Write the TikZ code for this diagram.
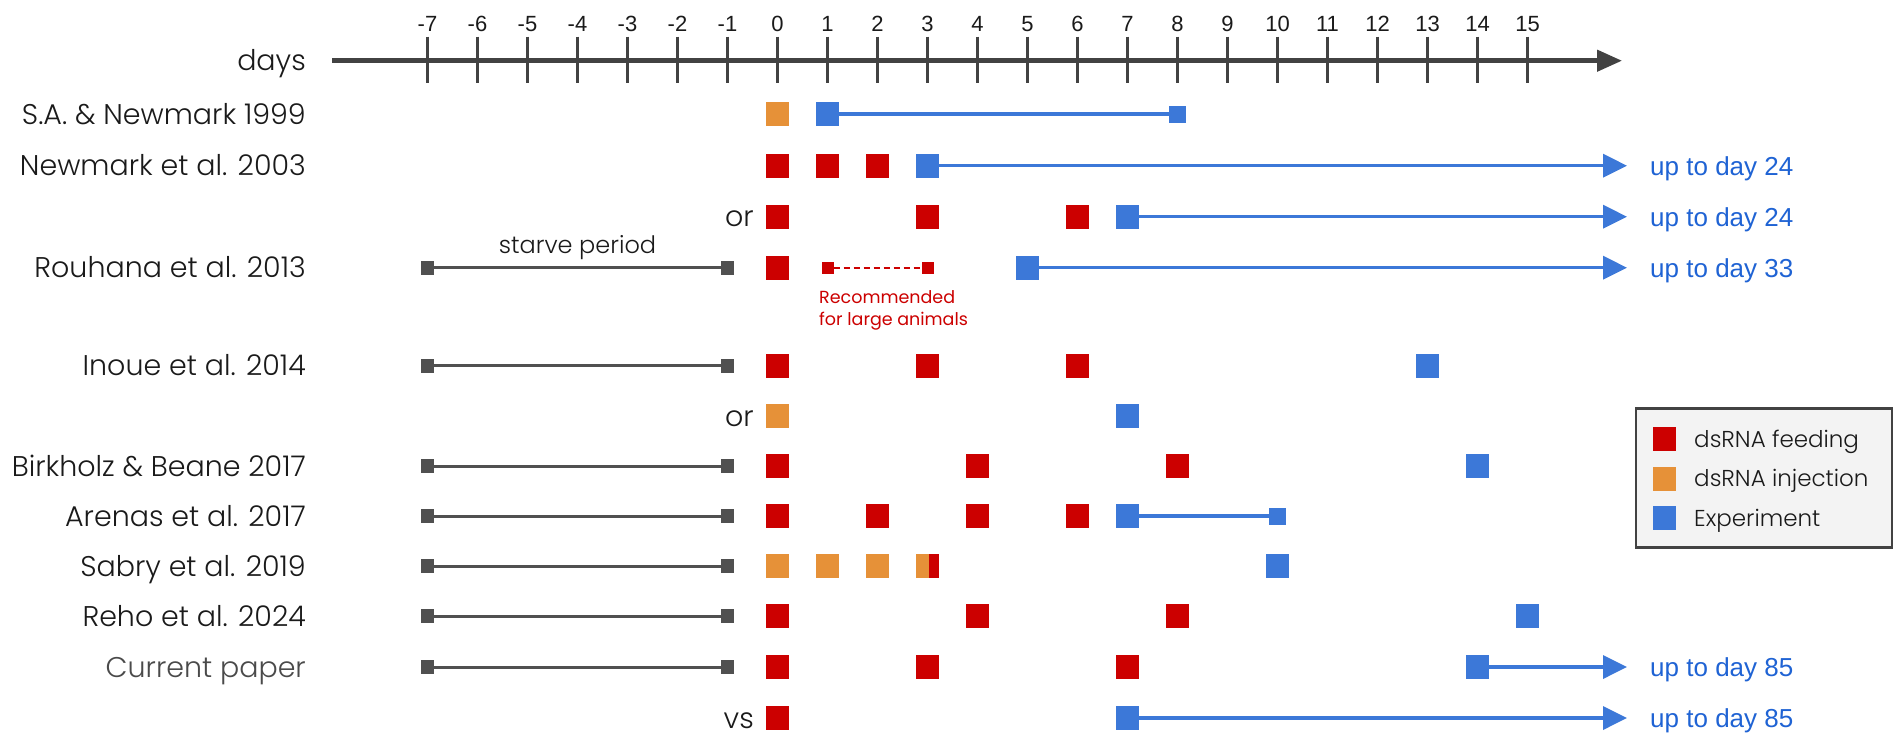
\documentclass[tikz,border=0pt]{standalone}
\usepackage{fontspec}
\setmainfont{Poppins}[UprightFont=* Light]
\newfontfamily\numfamily{Liberation Sans}
\newfontfamily\recfamily{Poppins}
\usetikzlibrary{arrows.meta}
\definecolor{fred}{HTML}{CC0000}
\definecolor{forange}{HTML}{E69138}
\definecolor{fblue}{HTML}{3C78D8}
\definecolor{tblue}{HTML}{1F63D4}
\definecolor{sgray}{HTML}{505050}
\definecolor{axgray}{HTML}{424242}
\definecolor{labelcol}{HTML}{1A1A1A}
\definecolor{curcol}{HTML}{4A4A4A}
\definecolor{legfill}{HTML}{F3F3F3}
\newcommand\lblfont{\fontsize{28.5}{32}\selectfont}
\newcommand\numfont{\numfamily\fontsize{22}{26}\selectfont}
\newcommand\upfont{\numfamily\fontsize{26}{30}\selectfont}
\newcommand\legfont{\fontsize{23}{27}\selectfont}
\newcommand\recfont{\recfamily\fontsize{17.5}{20}\selectfont}
\begin{document}
\begin{tikzpicture}[x=1pt,y=-1pt,
  sq/.style={rectangle, inner sep=0pt, minimum width=23pt, minimum height=24pt},
  feed/.style={sq, fill=fred},
  inj/.style={sq, fill=forange},
  expm/.style={sq, fill=fblue},
  smexp/.style={rectangle, inner sep=0pt, minimum width=17pt, minimum height=17pt, fill=fblue},
  smfeed/.style={rectangle, inner sep=0pt, minimum width=12pt, minimum height=12pt, fill=fred},
  endsq/.style={rectangle, inner sep=0pt, minimum width=13pt, minimum height=14pt, fill=sgray},
  starve/.style={draw=sgray, line width=3pt},
  bline/.style={draw=fblue, line width=3.5pt},
  barrow/.style={bline, -{Triangle[length=24pt,width=23pt]}},
  axisline/.style={draw=axgray, line width=4.5pt, -{Triangle[length=25pt,width=21pt]}},
  tickline/.style={draw=axgray, line width=3pt},
  lbl/.style={anchor=base east, inner sep=0pt, text=labelcol, font=\lblfont},
  upto/.style={anchor=base west, inner sep=0pt, text=tblue, font=\upfont},
  ticklbl/.style={anchor=base, inner sep=0pt, text=labelcol, font=\numfont},
  legtxt/.style={anchor=base west, inner sep=0pt, text=labelcol, font=\legfont},
  rectxt/.style={anchor=base west, inner sep=0pt, text=fred, font=\recfont}
]
\useasboundingbox (0,0) rectangle (1902,740);
\fill[white] (0,0) rectangle (1902,740);

% axis
\node[lbl] (days) at (306,70) {days};
\coordinate (ax0) at (332,60.7);
\coordinate (ax1) at (1622,60.7);
\draw[axisline] (ax0) -- (ax1);
\foreach \d in {-7,...,15}{
  \draw[tickline] ({777.5+50*\d},36.7) -- ({777.5+50*\d},83.3);
  \node[ticklbl] (t\d) at ({777.5+50*\d},31.5) {\d};
}

% row labels
\node[lbl] (l1) at (306,124) {S.A. \& Newmark 1999};
\node[lbl] (l2) at (306,175.7) {Newmark et al. 2003};
\node[lbl] (l3) at (754,226.7) {or};
\node[lbl] (l4) at (306,277.7) {Rouhana et al. 2013};
\node[lbl] (l5) at (306,375.7) {Inoue et al. 2014};
\node[lbl] (l6) at (754,426) {or};
\node[lbl] (l7) at (306,476) {Birkholz \& Beane 2017};
\node[lbl] (l8) at (306,526) {Arenas et al. 2017};
\node[lbl] (l9) at (306,576) {Sabry et al. 2019};
\node[lbl] (l10) at (306,626) {Reho et al. 2024};
\node[lbl, text=curcol] (l11) at (306,677) {Current paper};
\node[lbl] (l12) at (754,728) {vs};

% starve periods
\foreach \y/\n in {267.7/4,365.7/5,466/7,516/8,566/9,616/10,667/11}{
  \node[endsq] (sa\n) at ({777.5-350},\y) {};
  \node[endsq] (sb\n) at ({777.5-50},\y) {};
  \draw[starve] (sa\n) -- (sb\n);
}
\node[font=\fontsize{24}{28}\selectfont, text=labelcol, anchor=base, inner sep=0pt] (starvetxt) at (577.5,253) {starve period};

% S.A. & Newmark 1999
\node[inj] (r1a) at ({777.5},114) {};
\node[expm] (r1e) at ({777.5+50},114) {};
\node[smexp] (r1f) at ({777.5+400},114) {};
\draw[bline] (r1e) -- (r1f);

% Newmark 2003
\node[feed] (r2a) at ({777.5},165.7) {};
\node[feed] (r2b) at ({777.5+50},165.7) {};
\node[feed] (r2c) at ({777.5+100},165.7) {};
\node[expm] (r2e) at ({777.5+150},165.7) {};
\coordinate (r2t) at (1627,165.7);
\draw[barrow] (r2e) -- (r2t);
\node[upto] (u2) at (1650,175) {up to day 24};

% or
\node[feed] (r3a) at ({777.5},216.7) {};
\node[feed] (r3b) at ({777.5+150},216.7) {};
\node[feed] (r3c) at ({777.5+300},216.7) {};
\node[expm] (r3e) at ({777.5+350},216.7) {};
\coordinate (r3t) at (1627,216.7);
\draw[barrow] (r3e) -- (r3t);
\node[upto] (u3) at (1650,226) {up to day 24};

% Rouhana 2013
\node[feed] (r4a) at ({777.5},267.7) {};
\node[smfeed] (r4b) at ({777.5+50},267.7) {};
\node[smfeed] (r4c) at ({777.5+150},267.7) {};
\draw[fred, line width=2pt, dash pattern=on 6pt off 4pt] (r4b) -- (r4c);
\node[rectxt] (rec1) at (819,303.5) {Recommended};
\node[rectxt] (rec2) at (819,325) {for large animals};
\node[expm] (r4e) at ({777.5+250},267.7) {};
\coordinate (r4t) at (1627,267.7);
\draw[barrow] (r4e) -- (r4t);
\node[upto] (u4) at (1650,277) {up to day 33};

% Inoue 2014
\node[feed] (r5a) at ({777.5},365.7) {};
\node[feed] (r5b) at ({777.5+150},365.7) {};
\node[feed] (r5c) at ({777.5+300},365.7) {};
\node[expm] (r5e) at ({777.5+650},365.7) {};

% or
\node[inj] (r6a) at ({777.5},416) {};
\node[expm] (r6e) at ({777.5+350},416) {};

% Birkholz 2017
\node[feed] (r7a) at ({777.5},466) {};
\node[feed] (r7b) at ({777.5+200},466) {};
\node[feed] (r7c) at ({777.5+400},466) {};
\node[expm] (r7e) at ({777.5+700},466) {};

% Arenas 2017
\node[feed] (r8a) at ({777.5},516) {};
\node[feed] (r8b) at ({777.5+100},516) {};
\node[feed] (r8c) at ({777.5+200},516) {};
\node[feed] (r8d) at ({777.5+300},516) {};
\node[expm] (r8e) at ({777.5+350},516) {};
\node[smexp] (r8f) at ({777.5+500},516) {};
\draw[bline] (r8e) -- (r8f);

% Sabry 2019
\node[inj] (r9a) at ({777.5},566) {};
\node[inj] (r9b) at ({777.5+50},566) {};
\node[inj] (r9c) at ({777.5+100},566) {};
\node[inj, path picture={\fill[fred] ([xshift=-10pt]path picture bounding box.north east) rectangle (path picture bounding box.south east);}] (r9d) at ({777.5+150},566) {};
\node[expm] (r9e) at ({777.5+500},566) {};

% Reho 2024
\node[feed] (r10a) at ({777.5},616) {};
\node[feed] (r10b) at ({777.5+200},616) {};
\node[feed] (r10c) at ({777.5+400},616) {};
\node[expm] (r10e) at ({777.5+750},616) {};

% Current paper
\node[feed] (r11a) at ({777.5},667) {};
\node[feed] (r11b) at ({777.5+150},667) {};
\node[feed] (r11c) at ({777.5+350},667) {};
\node[expm] (r11e) at ({777.5+700},667) {};
\coordinate (r11t) at (1627,667);
\draw[barrow] (r11e) -- (r11t);
\node[upto] (u11) at (1650,676.5) {up to day 85};

% vs
\node[feed] (r12a) at ({777.5},718) {};
\node[expm] (r12e) at ({777.5+350},718) {};
\coordinate (r12t) at (1627,718);
\draw[barrow] (r12e) -- (r12t);
\node[upto] (u12) at (1650,727.5) {up to day 85};

% legend
\node[draw=axgray, line width=2.5pt, fill=legfill, rectangle, minimum width=256pt, minimum height=139pt, inner sep=0pt] (legend) at (1764,478) {};
\node[feed] (lg1) at (1664,439) {};
\node[legtxt] (lt1) at (1694,447) {dsRNA feeding};
\node[inj] (lg2) at (1664,478.7) {};
\node[legtxt] (lt2) at (1694,486.7) {dsRNA injection};
\node[expm] (lg3) at (1664,518) {};
\node[legtxt] (lt3) at (1694,526) {Experiment};
\end{tikzpicture}
\end{document}
